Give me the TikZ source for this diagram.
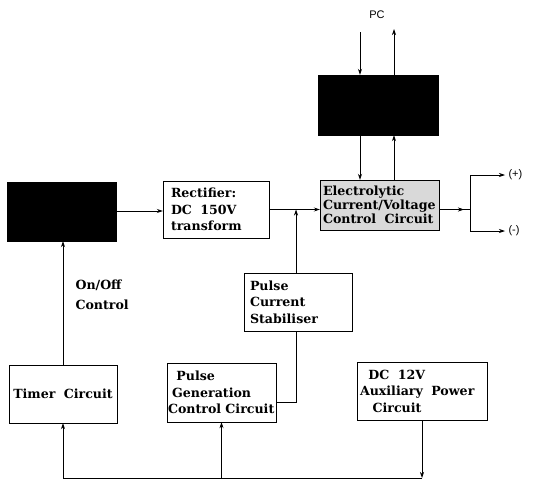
\documentclass[tikz,border=0pt]{standalone}
\usepackage{fontspec}
\setmainfont{Liberation Sans}
\newfontfamily\boxfont{DejaVu Serif}
\usetikzlibrary{arrows.meta}
\tikzset{
  blk/.style={draw, fill=black, inner sep=0pt},
  box/.style={draw, fill=white, inner ysep=0pt, align=left,
    font=\boxfont\bfseries\fontsize{12.6}{16.5}\selectfont},
  lbl/.style={font=\boxfont\bfseries\fontsize{12.6}{20}\selectfont, align=left},
  sans/.style={font=\fontsize{11}{12}\selectfont},
  conn/.style={line width=0.7pt},
  arr/.style={conn, -{Stealth[length=6pt,width=4pt]}}
}
\begin{document}
\begin{tikzpicture}[x=1pt,y=-1pt]
\useasboundingbox (0,0) rectangle (534,482);

% nodes
\node[blk, minimum width=109pt, minimum height=59pt] (blackL) at (61.5,211.5) {};
\node[blk, minimum width=120pt, minimum height=60pt] (blackT) at (378,105) {};
\node[box, minimum width=106pt, minimum height=57pt, inner xsep=8pt, text width=90pt] (rect) at (216,209.5)
  {Rectifier:\\DC\ \ 150V\\transform};
\node[box, fill=gray!30, minimum width=119pt, minimum height=50pt, inner xsep=3pt, text width=113pt,
  font=\boxfont\bfseries\fontsize{12.6}{14}\selectfont] (elec) at (379.5,205)
  {Electrolytic\\Current/Voltage\\Control\ \ Circuit};
\node[box, minimum width=108pt, minimum height=58pt, inner xsep=6pt, text width=96pt] (stab) at (298,302)
  {Pulse\\Current\\Stabiliser};
\node[box, minimum width=108pt, minimum height=58pt, inner xsep=2pt, text width=104pt, align=center] (timer) at (63,394)
  {Timer\ \ Circuit};
\node[box, minimum width=109pt, minimum height=59pt, inner xsep=1pt, text width=107pt] (pgen) at (221.5,392.5)
  {\ \ Pulse\\\ Generation\\Control Circuit};
\node[box, minimum width=130pt, minimum height=58pt, inner xsep=3pt, text width=124pt] (aux) at (422,391)
  {\ \ DC\ \ 12V\\Auxiliary\ \ Power\\\ \ \ Circuit};

\node[lbl, anchor=north west] (onoff) at (72,276) {On/Off\\Control};
\node[sans] (pc) at (377,15) {PC};
\node[sans, anchor=west] (plus) at (505,175) {(+)};
\node[sans, anchor=west] (minus) at (505,231) {(-)};

% coordinates
\coordinate (pcin) at (360,32);
\coordinate (pcout) at (394,29);
\coordinate (fork) at (470,209.5);
\coordinate (junc) at (296,209.5);
\coordinate (busL) at (63,478);

% connectors
\draw[arr] (blackL.east |- 0,211) -- (rect.west |- 0,211);
\draw[arr] (timer.north) -- (timer.north |- blackL.south);
\draw[arr] (rect.east) -- (elec.west |- rect.east);
\draw[arr] (stab.north -| junc) -- (junc);
\draw[conn] (stab.south -| junc) |- ([yshift=-9.5pt]pgen.east);
\draw[arr] (elec.east |- fork) -- ([xshift=-6pt]fork);
\draw[conn] ([xshift=-7pt]fork) -- (fork);
\draw[conn] (fork |- plus) -- (fork |- minus);
\draw[arr] (fork |- plus) -- (plus.west);
\draw[arr] (fork |- minus) -- (minus.west);

\draw[arr] (pcin) -- (pcin |- blackT.north);
\draw[arr] (blackT.north -| pcout) -- (pcout);
\draw[arr] (blackT.south -| pcin) -- (elec.north -| pcin);
\draw[arr] (elec.north -| pcout) -- (blackT.south -| pcout);

\draw[arr] (aux.south) -- (aux.south |- busL);
\draw[conn] (aux.south |- busL) -- (busL);
\draw[arr] (busL) -- (timer.south);
\draw[arr] (pgen.south |- busL) -- (pgen.south);
\end{tikzpicture}
\end{document}
